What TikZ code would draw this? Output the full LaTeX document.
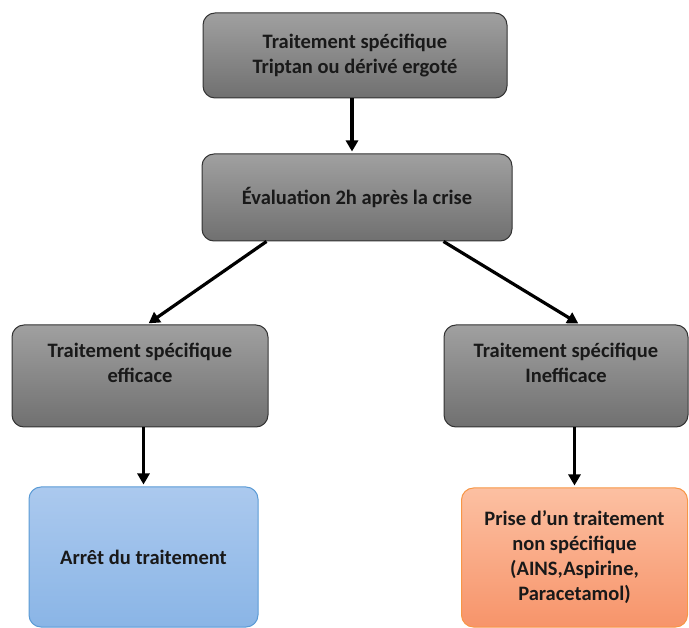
\documentclass[tikz,border=0pt]{standalone}
\usepackage{fontspec}
\setmainfont{Carlito}
\usetikzlibrary{arrows.meta}

\definecolor{grayTop}{HTML}{A0A0A0}
\definecolor{grayBot}{HTML}{707070}
\definecolor{blueTop}{HTML}{ABC9EE}
\definecolor{blueBot}{HTML}{8AB5E6}
\definecolor{blueLine}{HTML}{5B9BD5}
\definecolor{orangeTop}{HTML}{FCC0A2}
\definecolor{orangeBot}{HTML}{F7946A}
\definecolor{orangeLine}{HTML}{F79646}

\begin{document}
\begin{tikzpicture}[x=1pt,y=-1pt,
    txt/.style={font=\bfseries\fontsize{20.5}{25}\selectfont, align=center, text=black!90},
    graybox/.style={txt, draw=black!80, line width=1pt, rounded corners=12pt, inner sep=0pt,
      top color=grayTop, bottom color=grayBot},
    bluebox/.style={graybox, draw=blueLine, top color=blueTop, bottom color=blueBot},
    orangebox/.style={graybox, draw=orangeLine, top color=orangeTop, bottom color=orangeBot},
    arr/.style={line width=3.2pt, shorten >=2pt, -{Triangle[length=11pt,width=12pt]}}]
  \useasboundingbox (0,0) rectangle (689,628);

  \node[graybox, minimum width=304pt, minimum height=85pt] (specifique) at (355,55.5)
    {Traitement spécifique\\Triptan ou dérivé ergoté};
  \node[graybox, minimum width=310pt, minimum height=87pt] (evaluation) at (357,197.5)
    {Évaluation 2h après la crise};

  % the two outcomes
  \node[graybox, minimum width=256pt, minimum height=102pt] (efficace) at (140,376) {};
  \node[txt] (efficaceText) at ([yshift=13pt]efficace.center) {Traitement spécifique\\efficace};
  \node[graybox, minimum width=244pt, minimum height=102pt] (inefficace) at (566,376) {};
  \node[txt] (inefficaceText) at ([yshift=13pt]inefficace.center) {Traitement spécifique\\Inefficace};

  \node[bluebox, minimum width=229pt, minimum height=140pt] (arret) at (143.5,557)
    {Arrêt du traitement};
  \node[orangebox, minimum width=226pt, minimum height=139pt] (nonspec) at (574.5,557.5)
    {Prise d’un traitement\\non spécifique\\(AINS,Aspirine,\\Paracetamol)};

  \draw[arr] ([xshift=-3pt]specifique.south) -- ([xshift=-3pt]specifique.south |- evaluation.north);
  \draw[arr] ([xshift=65pt]evaluation.south west) -- ([xshift=7pt]efficace.north);
  \draw[arr] ([xshift=-69pt]evaluation.south east) -- ([xshift=14pt]inefficace.north);
  \draw[arr] (efficace.south -| arret.north) -- (arret.north);
  \draw[arr] (inefficace.south -| nonspec.north) -- (nonspec.north);
\end{tikzpicture}
\end{document}
